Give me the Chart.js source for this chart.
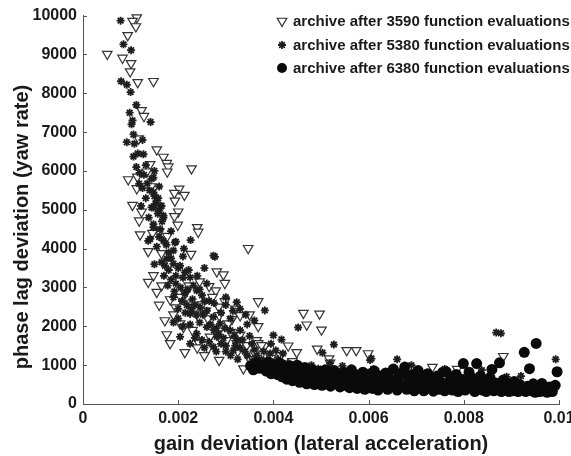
<!DOCTYPE html>
<html>
<head>
<meta charset="utf-8">
<script src="https://cdn.jsdelivr.net/npm/chart.js@4.4.0/dist/chart.umd.min.js"></script>
<style>
  html, body { margin: 0; padding: 0; background: #fff; }
  #wrap { width: 571px; height: 456px; }
</style>
</head>
<body>
<div id="wrap"><canvas id="chart"></canvas></div>
<script>
const seriesLabels = [
  'archive after 3590 function evaluations',
  'archive after 5380 function evaluations',
  'archive after 6380 function evaluations'
]
const xTitle = 'gain deviation (lateral acceleration)'
const yTitle = 'phase lag deviation (yaw rate)'
const xTickLabels = ['0', '0.002', '0.004', '0.006', '0.008', '0.01']
const yTickLabels = ['0', '1000', '2000', '3000', '4000', '5000', '6000', '7000', '8000', '9000', '10000']

// [gain deviation, phase lag deviation]
const archive3590 = [
  [0.00113, 9950], [0.00104, 9860], [0.00111, 9720], [0.00094, 9490], [0.00051, 9010], [0.00083, 8910],
  [0.00101, 8770], [0.00099, 8560], [0.00115, 8280], [0.00148, 8310], [0.00123, 7560], [0.00128, 7410],
  [0.00117, 6830], [0.00155, 6550], [0.00169, 6360], [0.00176, 6200], [0.00141, 6170], [0.00179, 6110],
  [0.00177, 5980], [0.00134, 5980], [0.00228, 6060], [0.00095, 5780], [0.00114, 5850], [0.00113, 5550],
  [0.00143, 5600], [0.00202, 5540], [0.00192, 5430], [0.00213, 5380], [0.00193, 5230], [0.00104, 5120],
  [0.00123, 4950], [0.00200, 4950], [0.00192, 4830], [0.00118, 4720], [0.00199, 4610], [0.00240, 4550],
  [0.00242, 4430], [0.00120, 4360], [0.00177, 4320], [0.00160, 4440], [0.00146, 4400], [0.00137, 3930],
  [0.00165, 3880], [0.00227, 3860], [0.00347, 4010], [0.00148, 3310], [0.00137, 3140], [0.00165, 3050],
  [0.00155, 2880], [0.00281, 3410], [0.00295, 3330], [0.00298, 3110], [0.00265, 3030], [0.00279, 2920],
  [0.00298, 2640], [0.00368, 2640], [0.00221, 2600], [0.00183, 2690], [0.00172, 2150], [0.00204, 2070],
  [0.00368, 2000], [0.00176, 1790], [0.00183, 1560], [0.00214, 1330], [0.00267, 1730], [0.00313, 2180],
  [0.00330, 1780], [0.00365, 1640], [0.00344, 1510], [0.00379, 1470], [0.00361, 1300], [0.00239, 2320],
  [0.00330, 2280], [0.00286, 2280], [0.00305, 2070], [0.00211, 1980], [0.00242, 1600], [0.00263, 1430],
  [0.00286, 1130], [0.00337, 910], [0.00368, 1560], [0.00382, 1500], [0.00302, 1640], [0.00281, 1810],
  [0.00323, 1560], [0.00195, 2480], [0.00250, 2560], [0.00230, 1900], [0.00262, 2200], [0.00310, 1850],
  [0.00285, 2500], [0.00215, 2850], [0.00245, 3150], [0.00415, 1250], [0.00395, 1180], [0.00440, 1100],
  [0.00463, 2340], [0.00497, 2320], [0.00470, 2040], [0.00501, 1910], [0.00431, 1500], [0.00449, 1330],
  [0.00492, 1420], [0.00554, 1380], [0.00574, 1380], [0.00517, 1170], [0.00599, 1300], [0.00375, 1510],
  [0.00519, 1060], [0.00734, 950], [0.00786, 900], [0.00883, 1230], [0.00826, 640], [0.00160, 2550],
  [0.00190, 2300], [0.00205, 2750], [0.00222, 3050], [0.00258, 2400], [0.00272, 2750], [0.00240, 1450],
  [0.00255, 1250], [0.00290, 1650], [0.00325, 1350], [0.00350, 1150], [0.00320, 2450], [0.00350, 2300]
]

const archive5380 = [
  [0.00079, 9870], [0.00085, 9260], [0.00101, 9110], [0.00080, 8310], [0.00092, 8220], [0.00100, 8030],
  [0.00104, 7300], [0.00102, 7200], [0.00142, 7260], [0.00106, 6940], [0.00092, 6740], [0.00115, 6450],
  [0.00106, 6370], [0.00127, 6430], [0.00144, 5800], [0.00118, 5670], [0.00148, 5450], [0.00155, 5230],
  [0.00148, 5060], [0.00164, 5100], [0.00169, 4800], [0.00148, 4550], [0.00162, 4500], [0.00195, 4180],
  [0.00226, 4220], [0.00137, 4200], [0.00169, 4200], [0.00148, 5830], [0.00144, 5060], [0.00165, 5100],
  [0.00169, 4850], [0.00148, 4630], [0.00141, 4250], [0.00193, 4160], [0.00277, 3790], [0.00176, 3740],
  [0.00190, 3610], [0.00172, 3560], [0.00150, 5350], [0.00158, 5300], [0.00152, 5150], [0.00160, 4980],
  [0.00157, 4900], [0.00166, 4700], [0.00140, 5500], [0.00135, 5680], [0.00125, 5560], [0.00128, 5900],
  [0.00119, 5950], [0.00132, 6150], [0.00150, 6000], [0.00160, 5600], [0.00155, 4050], [0.00180, 3900],
  [0.00185, 3750], [0.00165, 3650], [0.00200, 3500], [0.00180, 3450], [0.00210, 3800], [0.00150, 3600],
  [0.00170, 3300], [0.00195, 3300], [0.00204, 3560], [0.00214, 3390], [0.00274, 3820], [0.00225, 3260],
  [0.00260, 3100], [0.00214, 2840], [0.00239, 2920], [0.00190, 2750], [0.00323, 2620], [0.00382, 2410],
  [0.00246, 2490], [0.00274, 2240], [0.00225, 2320], [0.00260, 1980], [0.00288, 2070], [0.00309, 1900],
  [0.00281, 1730], [0.00239, 1810], [0.00323, 1640], [0.00400, 1770], [0.00316, 1380], [0.00274, 1470],
  [0.00204, 1730], [0.00393, 1300], [0.00195, 3100], [0.00205, 3000], [0.00220, 2950], [0.00230, 2700],
  [0.00250, 2800], [0.00265, 2650], [0.00235, 2550], [0.00200, 2450], [0.00215, 2350], [0.00245, 2100],
  [0.00290, 2350], [0.00300, 2550], [0.00310, 2200], [0.00330, 2450], [0.00225, 2050], [0.00260, 2400],
  [0.00280, 1950], [0.00295, 1700], [0.00330, 1900], [0.00345, 2050], [0.00350, 1750], [0.00300, 1500],
  [0.00330, 1450], [0.00360, 1400], [0.00250, 1650], [0.00225, 1550], [0.00265, 1600], [0.00290, 1550],
  [0.00310, 1250], [0.00345, 1250], [0.00375, 1150], [0.00355, 1100], [0.00395, 1550], [0.00405, 1380],
  [0.00417, 1660], [0.00452, 1970], [0.00527, 1530], [0.00494, 910], [0.00606, 1170], [0.00660, 1150],
  [0.00868, 1840], [0.00878, 1820], [0.00993, 1150], [0.00603, 1130], [0.00838, 870], [0.00503, 1320],
  [0.00519, 1050], [0.00440, 800], [0.00470, 700], [0.00520, 850], [0.00560, 700], [0.00610, 900],
  [0.00640, 600], [0.00700, 750], [0.00720, 450], [0.00760, 900], [0.00800, 650], [0.00850, 500],
  [0.00890, 700], [0.00940, 450], [0.00430, 1050], [0.00480, 1000], [0.00545, 980], [0.00690, 1000],
  [0.00920, 720], [0.00185, 3200], [0.00178, 3050], [0.00192, 2900], [0.00208, 2650], [0.00218, 2550],
  [0.00228, 2450], [0.00238, 2300], [0.00252, 2300], [0.00268, 2050], [0.00275, 1900], [0.00285, 1800],
  [0.00298, 1950], [0.00318, 1750], [0.00335, 1650], [0.00340, 1350], [0.00325, 1150], [0.00365, 1250],
  [0.00380, 1350], [0.00370, 1000], [0.00385, 1100], [0.00410, 1150], [0.00420, 1300], [0.00255, 2650],
  [0.00245, 2950], [0.00232, 3050], [0.00210, 3250], [0.00222, 3450], [0.00240, 3300], [0.00255, 3500],
  [0.00190, 3950], [0.00175, 4100], [0.00212, 4000], [0.00160, 4300], [0.00185, 4450], [0.00200, 2200],
  [0.00210, 2000], [0.00190, 2100], [0.00235, 1700], [0.00255, 1450], [0.00280, 1350], [0.00300, 1350],
  [0.00320, 1500], [0.00355, 1550], [0.00300, 2750], [0.00315, 2400], [0.00342, 2300], [0.00360, 2150],
  [0.00275, 2600], [0.00138, 4800], [0.00132, 5300], [0.00122, 5100], [0.00112, 6100], [0.00108, 6700],
  [0.00125, 6800], [0.00098, 7500], [0.00112, 7700]
]

const archive6380 = [
  [0.00352, 980], [0.00358, 880], [0.00365, 1060], [0.00372, 920], [0.00378, 1000], [0.00385, 850],
  [0.00390, 1080], [0.00395, 780], [0.00398, 950], [0.00405, 1020], [0.00408, 760], [0.00412, 880],
  [0.00415, 1040], [0.00418, 700], [0.00422, 940], [0.00428, 640], [0.00432, 820], [0.00436, 980],
  [0.00440, 600], [0.00444, 760], [0.00448, 900], [0.00450, 1000], [0.00455, 560], [0.00458, 820],
  [0.00462, 700], [0.00466, 940], [0.00470, 520], [0.00474, 780], [0.00478, 640], [0.00482, 880],
  [0.00486, 500], [0.00490, 720], [0.00494, 600], [0.00498, 840], [0.00502, 480], [0.00505, 680],
  [0.00509, 880], [0.00513, 560], [0.00517, 760], [0.00520, 460], [0.00524, 640], [0.00528, 860],
  [0.00532, 520], [0.00536, 720], [0.00540, 440], [0.00544, 600], [0.00548, 820], [0.00552, 480],
  [0.00556, 680], [0.00560, 420], [0.00564, 880], [0.00568, 560], [0.00572, 760], [0.00576, 400],
  [0.00580, 620], [0.00584, 480], [0.00588, 820], [0.00592, 380], [0.00596, 660], [0.00600, 520],
  [0.00604, 780], [0.00608, 400], [0.00612, 850], [0.00616, 620], [0.00620, 360], [0.00624, 720],
  [0.00628, 480], [0.00632, 560], [0.00636, 800], [0.00640, 380], [0.00644, 660], [0.00648, 460],
  [0.00652, 900], [0.00656, 560], [0.00660, 360], [0.00664, 720], [0.00668, 480], [0.00672, 820],
  [0.00676, 950], [0.00680, 380], [0.00684, 620], [0.00688, 460], [0.00692, 760], [0.00696, 340],
  [0.00700, 560], [0.00704, 860], [0.00708, 420], [0.00712, 680], [0.00716, 340], [0.00720, 540],
  [0.00724, 780], [0.00728, 400], [0.00732, 620], [0.00736, 330], [0.00740, 480], [0.00744, 720],
  [0.00748, 380], [0.00752, 560], [0.00756, 820], [0.00760, 340], [0.00763, 830], [0.00768, 480],
  [0.00772, 640], [0.00776, 360], [0.00780, 540], [0.00784, 760], [0.00788, 320], [0.00792, 460],
  [0.00796, 640], [0.00799, 1040], [0.00803, 360], [0.00807, 560], [0.00811, 820], [0.00815, 420],
  [0.00819, 660], [0.00823, 320], [0.00827, 1040], [0.00831, 500], [0.00835, 720], [0.00839, 360],
  [0.00843, 600], [0.00847, 320], [0.00851, 460], [0.00855, 680], [0.00859, 890], [0.00863, 340],
  [0.00867, 540], [0.00871, 420], [0.00875, 1060], [0.00879, 320], [0.00883, 620], [0.00887, 400],
  [0.00891, 540], [0.00895, 320], [0.00899, 460], [0.00903, 340], [0.00906, 580], [0.00910, 420],
  [0.00914, 320], [0.00918, 500], [0.00922, 380], [0.00927, 1330], [0.00930, 320], [0.00934, 460],
  [0.00938, 910], [0.00942, 340], [0.00946, 520], [0.00950, 300], [0.00952, 1560], [0.00955, 420],
  [0.00960, 320], [0.00964, 530], [0.00970, 360], [0.00975, 300], [0.00980, 440], [0.00986, 320],
  [0.00996, 830], [0.00992, 480]
]

const toPoints = (pairs) => pairs.map(([x, y]) => ({ x, y }))

const inkColor = '#1a1a1a'
const tickFont = { family: '"Liberation Sans", Arial, sans-serif', size: 16, weight: 'bold' }
const titleFont = { family: '"Liberation Sans", Arial, sans-serif', size: 20, weight: 'bold' }

const markerStyles = [
  { pointStyle: 'triangle', rotation: 180, radius: 5.5, borderWidth: 1.2, borderColor: '#333333', backgroundColor: '#ffffff' },
  { pointStyle: 'star', rotation: 0, radius: 4, borderWidth: 1.8, borderColor: '#1e1e1e', backgroundColor: '#1e1e1e' },
  { pointStyle: 'circle', rotation: 0, radius: 5.5, borderWidth: 0, borderColor: '#0a0a0a', backgroundColor: '#0a0a0a' }
]

// ticks point inward, y title sits a bit below centre, legend inside the plot
const extrasPlugin = {
  id: 'extras',
  afterDraw(chart) {
    const { ctx, chartArea, scales } = chart
    ctx.save()
    ctx.strokeStyle = '#555'
    ctx.lineWidth = 1
    scales.y.ticks.forEach(t => {
      const py = Math.round(scales.y.getPixelForValue(t.value)) + 0.5
      ctx.beginPath()
      ctx.moveTo(chartArea.left, py)
      ctx.lineTo(chartArea.left + 4, py)
      ctx.stroke()
    })
    scales.x.ticks.forEach(t => {
      const px = Math.round(scales.x.getPixelForValue(t.value)) + 0.5
      ctx.beginPath()
      ctx.moveTo(px, chartArea.bottom)
      ctx.lineTo(px, chartArea.bottom - 4)
      ctx.stroke()
    })

    ctx.translate(22, 227)
    ctx.rotate(-Math.PI / 2)
    ctx.font = `bold ${titleFont.size}px ${titleFont.family}`
    ctx.fillStyle = inkColor
    ctx.textAlign = 'center'
    ctx.textBaseline = 'middle'
    ctx.fillText(yTitle, 0, 0)
    ctx.setTransform(1, 0, 0, 1, 0, 0)

    const rows = [21, 45, 68]
    chart.data.datasets.forEach((ds, i) => {
      const st = markerStyles[i]
      ctx.fillStyle = st.backgroundColor
      ctx.strokeStyle = st.borderColor
      ctx.lineWidth = st.borderWidth
      Chart.helpers.drawPoint(ctx, {
        pointStyle: st.pointStyle, rotation: st.rotation, radius: i === 2 ? 5 : st.radius, borderWidth: st.borderWidth
      }, 282, rows[i])
      ctx.fillStyle = inkColor
      ctx.font = `bold 15px ${tickFont.family}`
      ctx.textAlign = 'left'
      ctx.textBaseline = 'middle'
      ctx.fillText(ds.label, 293, rows[i] + 1)
    })
    ctx.restore()
  }
}

const datasets = [archive3590, archive5380, archive6380].map((pairs, i) => ({
  label: seriesLabels[i],
  data: toPoints(pairs),
  order: 3 - i,
  clip: false,
  pointStyle: markerStyles[i].pointStyle,
  rotation: markerStyles[i].rotation,
  pointRadius: markerStyles[i].radius,
  pointBorderWidth: markerStyles[i].borderWidth,
  pointBorderColor: markerStyles[i].borderColor,
  pointBackgroundColor: markerStyles[i].backgroundColor,
  showLine: false
}))

const ctx = document.getElementById('chart').getContext('2d')
new Chart(ctx, {
  type: 'scatter',
  data: { datasets },
  plugins: [extrasPlugin],
  options: {
    responsive: true,
    maintainAspectRatio: false,
    animation: false,
    events: [],
    layout: { padding: { top: 14, right: 12, left: 0, bottom: 0 } },
    plugins: { legend: { display: false }, tooltip: { enabled: false } },
    scales: {
      x: {
        type: 'linear',
        min: 0,
        max: 0.01,
        ticks: {
          stepSize: 0.002,
          padding: 5,
          color: inkColor,
          font: tickFont,
          maxRotation: 0,
          callback: (v, i) => xTickLabels[i]
        },
        grid: { drawOnChartArea: false, drawTicks: false },
        border: { color: '#555', width: 1 },
        title: { display: true, text: xTitle, color: inkColor, font: titleFont, padding: { top: 4, bottom: 0 } },
        afterFit(scale) {
          scale.height = 52
          scale.paddingRight = 0
          scale.paddingLeft = 0
        }
      },
      y: {
        type: 'linear',
        min: 0,
        max: 10000,
        ticks: {
          stepSize: 1000,
          padding: 6,
          color: inkColor,
          font: tickFont,
          callback: (v, i) => yTickLabels[i]
        },
        grid: { drawOnChartArea: false, drawTicks: false },
        border: { color: '#555', width: 1 },
        afterFit(scale) {
          scale.width = 83
        }
      }
    }
  }
})
</script>
</body>
</html>
